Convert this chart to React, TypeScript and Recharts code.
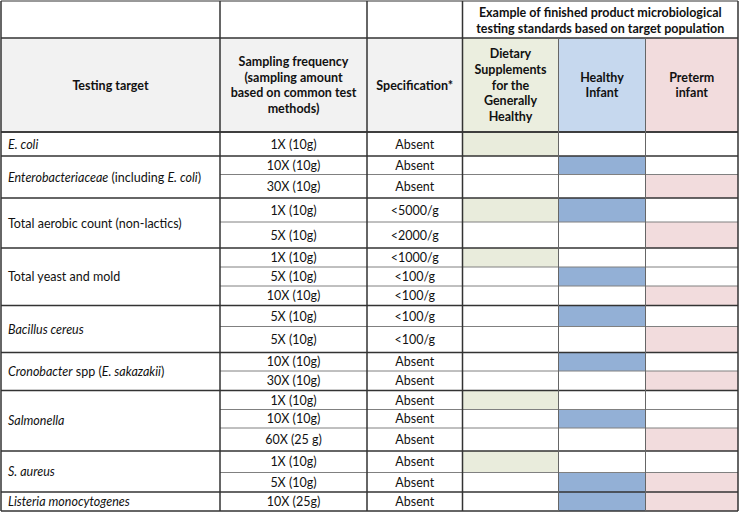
import React from 'react';
import { ComposedChart, XAxis, YAxis, Scatter, ReferenceArea, ReferenceLine } from 'recharts';

// table layout (pixel grid of the original table)
const COL_EDGES = [1, 220, 367, 462.5, 558.5, 645.5, 738];
const HEAD_EDGES = [1, 38, 132];
const ROW_EDGES = [132, 156, 174.5, 198, 222, 248, 267, 286, 305.5, 326.5, 352.5, 371, 390.5, 409.5, 428, 451, 472.5, 492, 511];

type Seg = { t: string; i?: boolean };

// data
const targets: Seg[][] = [
  [{ t: 'E. coli', i: true }],
  [{ t: 'Enterobacteriaceae', i: true }, { t: ' (including ' }, { t: 'E. coli', i: true }, { t: ')' }],
  [{ t: 'Total aerobic count (non-lactics)' }],
  [{ t: 'Total yeast and mold' }],
  [{ t: 'Bacillus cereus', i: true }],
  [{ t: 'Cronobacter', i: true }, { t: ' spp (' }, { t: 'E. sakazakii', i: true }, { t: ')' }],
  [{ t: 'Salmonella', i: true }],
  [{ t: 'S. aureus', i: true }],
  [{ t: 'Listeria monocytogenes', i: true }],
];
const targetSpans = [1, 2, 2, 3, 2, 2, 3, 2, 1];

const frequencies = [
  '1X (10g)', '10X (10g)', '30X (10g)', '1X (10g)', '5X (10g)', '1X (10g)', '5X (10g)', '10X (10g)',
  '5X (10g)', '5X (10g)', '10X (10g)', '30X (10g)', '1X (10g)', '10X (10g)', '60X (25 g)', '1X (10g)',
  '5X (10g)', '10X (25g)',
];
const specifications = [
  'Absent', 'Absent', 'Absent', '<5000/g', '<2000/g', '<1000/g', '<100/g', '<100/g', '<100/g', '<100/g',
  'Absent', 'Absent', 'Absent', 'Absent', 'Absent', 'Absent', 'Absent', 'Absent',
];
const dietary = [1, 0, 0, 1, 0, 1, 0, 0, 0, 0, 0, 0, 1, 0, 0, 1, 0, 0];
const healthy = [0, 1, 0, 1, 0, 0, 1, 0, 1, 0, 1, 0, 0, 1, 0, 0, 1, 1];
const preterm = [0, 0, 1, 0, 1, 0, 0, 1, 0, 1, 0, 1, 0, 0, 1, 0, 1, 1];

const topHeader = ['Example of finished product microbiological', 'testing standards based on target population'];
const columnHeaders = [
  ['Testing target'],
  ['Sampling frequency', '(sampling amount', 'based on common test', 'methods)'],
  ['Specification*'],
  ['Dietary', 'Supplements', 'for the', 'Generally', 'Healthy'],
  ['Healthy', 'Infant'],
  ['Preterm', 'infant'],
];

const HEAD_FILLS = ['#f2f2f2', '#f2f2f2', '#f2f2f2', '#ebeedf', '#c6d8ee', '#f2dcdd'];
const CELL_FILLS = ['#e9ecdc', '#93b0d6', '#f2dcdd'];
const FONT = 'Lato, "Open Sans", sans-serif';
const DARK = '#333';
const THIN = '#808080';

const mid = (a: number, b: number) => (a + b) / 2;

const headerPoints = [
  { x: mid(COL_EDGES[3], COL_EDGES[6]), y: mid(HEAD_EDGES[0], HEAD_EDGES[1]) + 1, lines: topHeader.map((t) => [{ t }]), anchor: 'middle', bold: true },
  ...columnHeaders.map((h, c) => ({
    x: mid(COL_EDGES[c], COL_EDGES[c + 1]),
    y: mid(HEAD_EDGES[1], HEAD_EDGES[2]),
    lines: h.map((t) => [{ t }]),
    anchor: 'middle',
    bold: true,
  })),
];

const groupStarts: number[] = [];
targetSpans.reduce((acc, s) => {
  groupStarts.push(acc);
  return acc + s;
}, 0);

const targetPoints = targets.map((segs, g) => ({
  x: COL_EDGES[0] + 7,
  y: mid(ROW_EDGES[groupStarts[g]], ROW_EDGES[groupStarts[g] + targetSpans[g]]),
  lines: [segs],
  anchor: 'start',
  bold: false,
}));

const bodyPoints = frequencies.flatMap((f, r) => [
  { x: mid(COL_EDGES[1], COL_EDGES[2]), y: mid(ROW_EDGES[r], ROW_EDGES[r + 1]), lines: [[{ t: f }]], anchor: 'middle', bold: false },
  { x: mid(COL_EDGES[2], COL_EDGES[3]), y: mid(ROW_EDGES[r], ROW_EDGES[r + 1]), lines: [[{ t: specifications[r] }]], anchor: 'middle', bold: false },
]);

const TextShape = (props: any) => {
  const { cx, cy, payload } = props;
  const lines: Seg[][] = payload.lines;
  const lh = 15.7;
  const size = payload.bold ? 12.5 : 12.5;
  const y0 = cy - ((lines.length - 1) * lh) / 2 + size * 0.36;
  return (
    <text
      x={cx}
      y={y0}
      textAnchor={payload.anchor}
      fontFamily={FONT}
      fontSize={size}
      fontWeight={payload.bold ? 700 : 400}
      fill="#111"
    >
      {lines.map((segs, k) => (
        <tspan key={k} x={cx} y={y0 + k * lh}>
          {segs.map((s, j) => (
            <tspan key={j} fontStyle={s.i ? 'italic' : 'normal'}>
              {s.t}
            </tspan>
          ))}
        </tspan>
      ))}
    </text>
  );
};

const majorRows = [...targetSpans.map((_, g) => ROW_EDGES[groupStarts[g]]), ROW_EDGES[ROW_EDGES.length - 1]];
const minorRows = ROW_EDGES.filter((y) => !majorRows.includes(y));

const App: React.FC = () => {
  const colSeries = [dietary, healthy, preterm];
  return (
    <div style={{ position: 'absolute', left: 0, top: 0, background: '#fff' }}>
      <ComposedChart width={739} height={513} margin={{ top: 0, right: 0, bottom: 0, left: 0 }}>
        <XAxis type="number" dataKey="x" domain={[0, 739]} allowDataOverflow hide />
        <YAxis type="number" dataKey="y" domain={[0, 513]} allowDataOverflow reversed hide />

        {columnHeaders.map((_, c) => (
          <ReferenceArea
            key={`h-${c}`}
            x1={COL_EDGES[c]}
            x2={COL_EDGES[c + 1]}
            y1={HEAD_EDGES[1]}
            y2={HEAD_EDGES[2]}
            fill={HEAD_FILLS[c]}
            fillOpacity={1}
            stroke="none"
          />
        ))}

        {colSeries.map((vals, c) =>
          vals.map((v, r) =>
            v ? (
              <ReferenceArea
                key={`c-${c}-${r}`}
                x1={COL_EDGES[3 + c]}
                x2={COL_EDGES[4 + c]}
                y1={ROW_EDGES[r]}
                y2={ROW_EDGES[r + 1]}
                fill={CELL_FILLS[c]}
                fillOpacity={1}
                stroke="none"
              />
            ) : null
          )
        )}

        {minorRows.map((y) => (
          <ReferenceLine key={`mr-${y}`} segment={[{ x: COL_EDGES[1], y }, { x: COL_EDGES[6], y }]} stroke={THIN} strokeWidth={1} />
        ))}
        {[...HEAD_EDGES, ...majorRows].map((y, k) => (
          <ReferenceLine
            key={`r-${k}`}
            segment={[{ x: COL_EDGES[0], y }, { x: COL_EDGES[6], y }]}
            stroke={DARK}
            strokeWidth={y === HEAD_EDGES[0] ? 1 : 1.5}
          />
        ))}
        {COL_EDGES.map((x, c) => (
          <ReferenceLine
            key={`v-${c}`}
            segment={[
              { x, y: c === 4 || c === 5 ? HEAD_EDGES[1] : HEAD_EDGES[0] },
              { x, y: ROW_EDGES[ROW_EDGES.length - 1] },
            ]}
            stroke={c === 4 || c === 5 ? '#666' : DARK}
            strokeWidth={c === 4 || c === 5 ? 1 : 1.5}
          />
        ))}

        <Scatter data={headerPoints} shape={TextShape} isAnimationActive={false} />
        <Scatter data={targetPoints} shape={TextShape} isAnimationActive={false} />
        <Scatter data={bodyPoints} shape={TextShape} isAnimationActive={false} />
      </ComposedChart>
    </div>
  );
};

export default App;
